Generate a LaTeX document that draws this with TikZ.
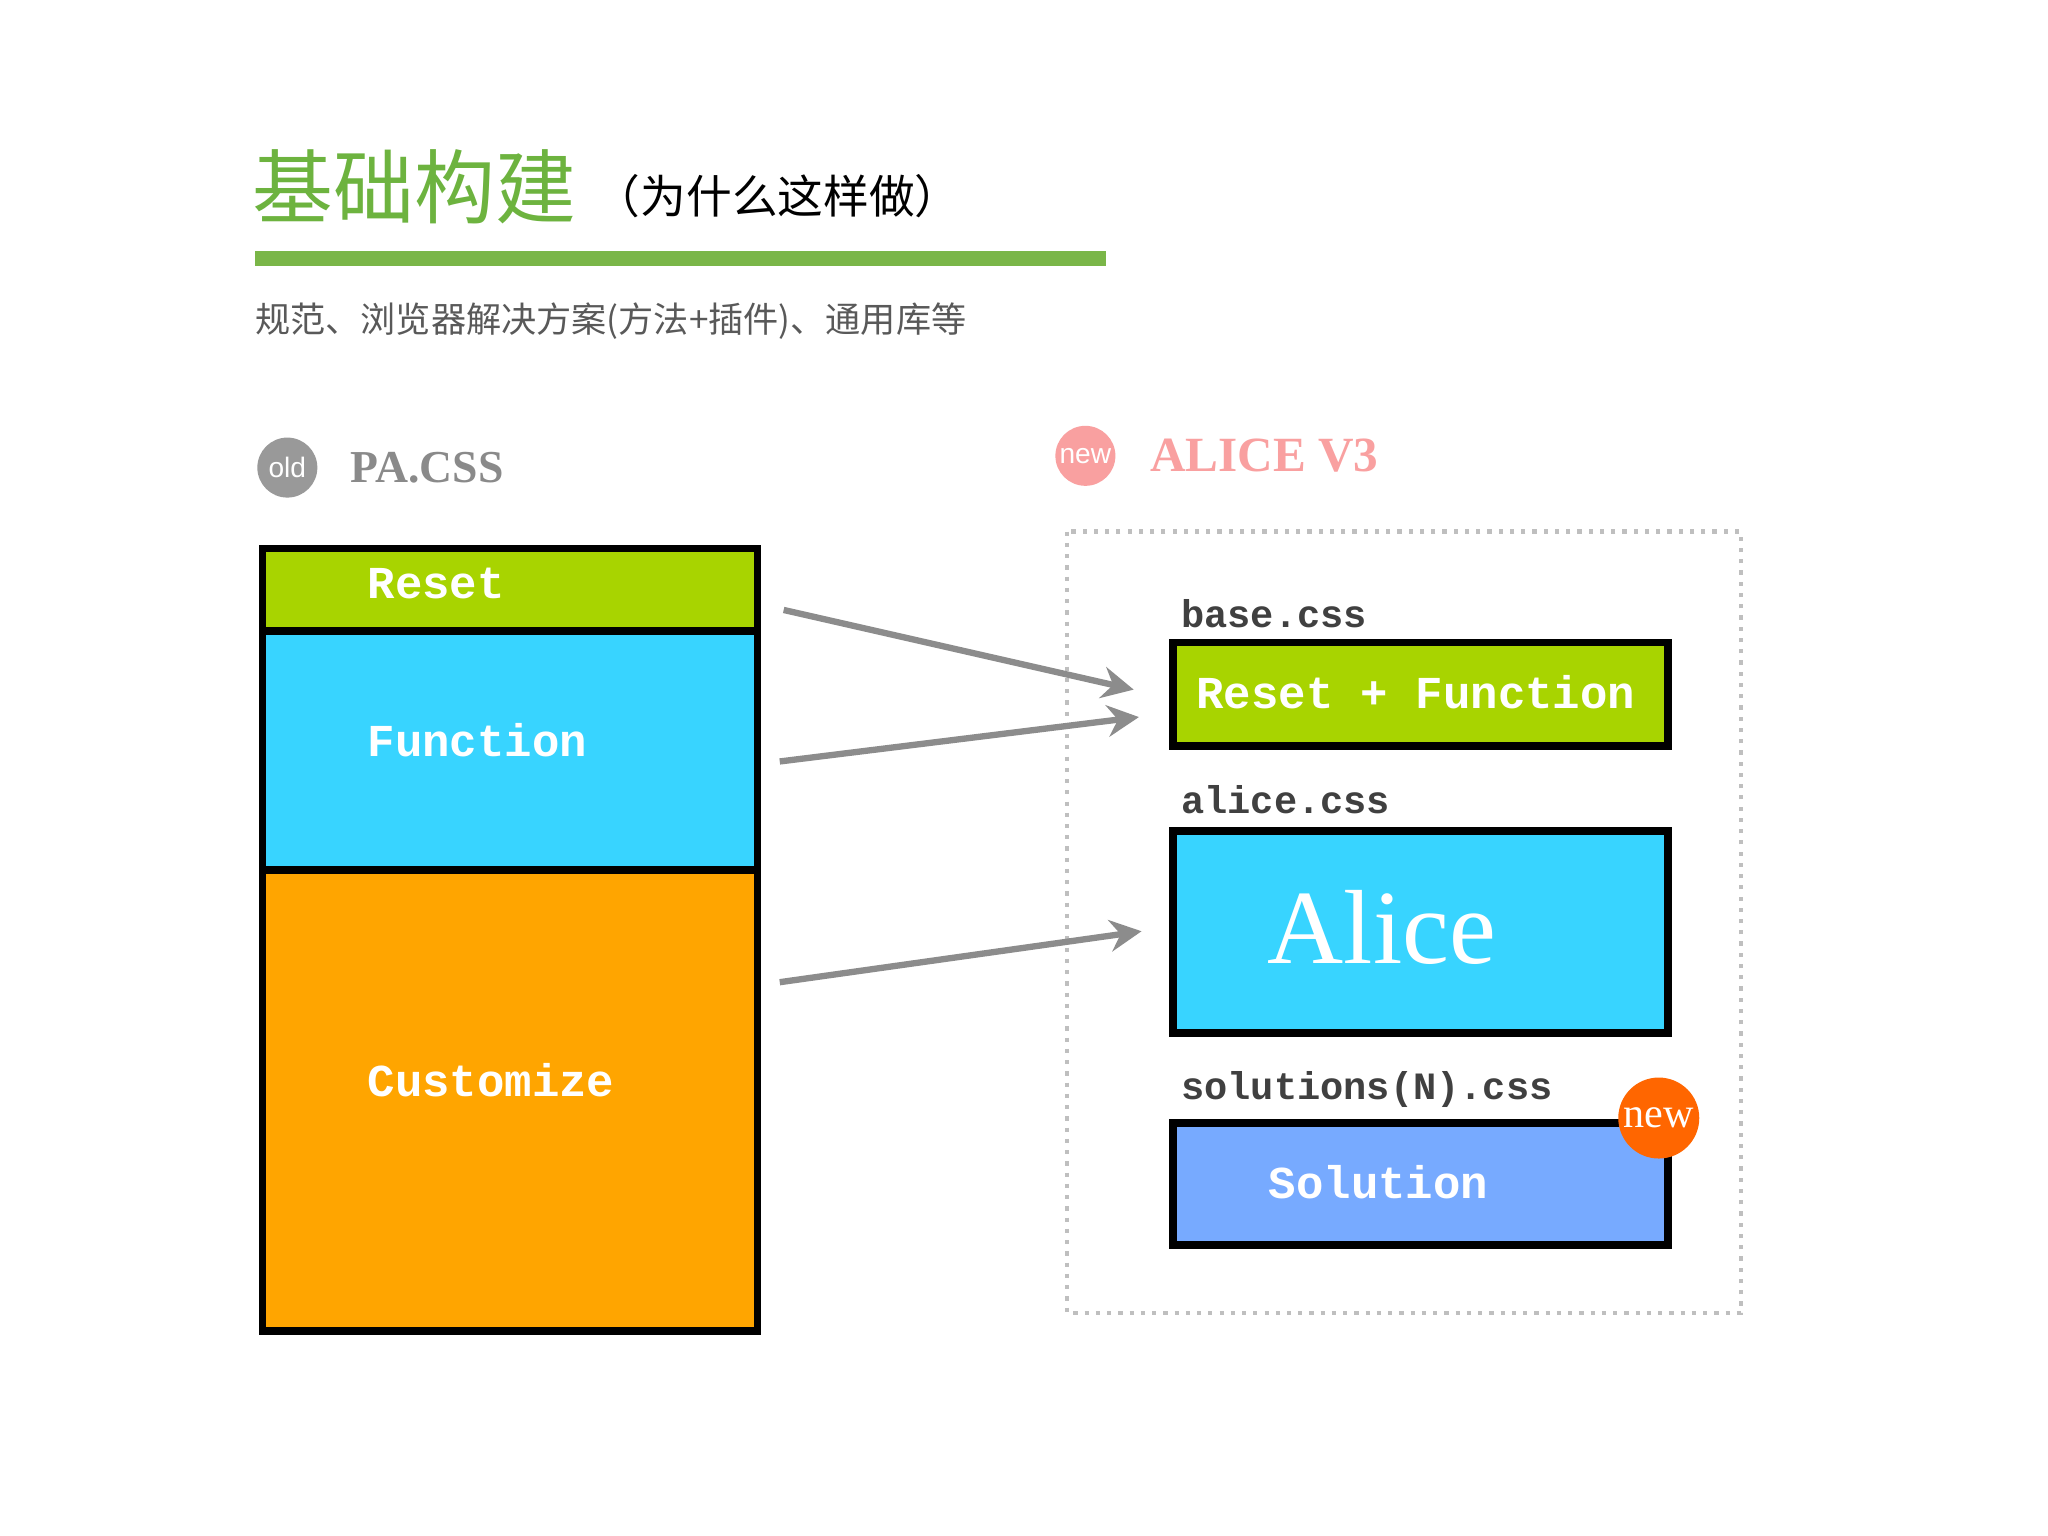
\documentclass[tikz,border=0pt]{standalone}
\usepackage{fontspec}
\usetikzlibrary{arrows.meta}
\setmainfont{Liberation Serif}
\newfontfamily\cjk{Noto Sans CJK SC}
\newfontfamily\monob{Liberation Mono}
\newfontfamily\sansf{Liberation Sans}
\definecolor{tgreen}{HTML}{6DB33F}
\definecolor{bgreen}{HTML}{7AB648}
\definecolor{rgreen}{HTML}{A8D400}
\definecolor{fcyan}{HTML}{38D4FF}
\definecolor{corange}{HTML}{FFA500}
\definecolor{sblue}{HTML}{77AAFF}
\definecolor{pinkc}{HTML}{F9A0A0}
\definecolor{neworange}{HTML}{FF6600}
\definecolor{graytxt}{HTML}{8A8A8A}
\begin{document}
\begin{tikzpicture}[x=0.01306cm,y=-0.01306cm,
  blk/.style={draw=black,line width=2.2pt,anchor=north west,inner sep=0},
  mlab/.style={font=\monob\bfseries\fontsize{13}{15}\selectfont,text=white,anchor=west},
  flab/.style={font=\monob\bfseries\fontsize{11}{13}\selectfont,text=black!75,anchor=west},
  arr/.style={draw=black!45,line width=1.8pt,-{Stealth[length=9pt,width=9pt,inset=3pt]}}]
\useasboundingbox (0,0) rectangle (1568,1176);
\fill[white] (0,0) rectangle (1568,1176);
% title
\node[anchor=west,inner sep=0,text=tgreen,font=\cjk\fontsize{23}{26}\selectfont] (t1) at (193,143) {基础构建};
\node[anchor=west,inner sep=0,font=\cjk\fontsize{13}{15}\selectfont] (t2) at (455,150) {（为什么这样做）};
\fill[bgreen] (195,192) rectangle (847,204);
\node[anchor=west,inner sep=0,text=black!65,font=\cjk\fontsize{10}{12}\selectfont] (sub) at (195,246) {规范、浏览器解决方案(方法+插件)、通用库等};
% old / new headers
\node[circle,fill=black!40,inner sep=0,text=white,font=\sansf\fontsize{8}{9}\selectfont,minimum size=0.6cm] (old) at (220,358) {old};
\node[anchor=west,inner sep=0,text=graytxt,font=\bfseries\fontsize{13}{15}\selectfont] (pa) at (268,358) {PA.CSS};
\node[circle,fill=pinkc,inner sep=0,text=white,font=\sansf\fontsize{8}{9}\selectfont,minimum size=0.6cm] (new1) at (831,349) {new};
\node[anchor=west,inner sep=0,text=pinkc,font=\bfseries\fontsize{14}{16}\selectfont] (al) at (880,349) {ALICE V3};
% left stack
\node[blk,fill=rgreen,minimum width=379*0.01306cm,minimum height=63*0.01306cm] (reset) at (198,417) {};
\node[blk,fill=fcyan,minimum width=379*0.01306cm,minimum height=183*0.01306cm] (func) at (198,480) {};
\node[blk,fill=corange,minimum width=379*0.01306cm,minimum height=353*0.01306cm] (cust) at (198,663) {};
\node[mlab] at (272,447) {Reset};
\node[mlab] at (272,567) {Function};
\node[mlab] at (272,827) {Customize};
% dotted container
\draw[black!25,dotted,line width=1.2pt] (817,407) rectangle (1333,1005);
\node[flab] at (895,470) {base.css};
\node[blk,fill=rgreen,minimum width=379*0.01306cm,minimum height=79*0.01306cm] (b1) at (895,489) {};
\node[mlab,anchor=center] at (1084,530) {Reset + Function};
\node[flab] at (895,612) {alice.css};
\node[blk,fill=fcyan,minimum width=379*0.01306cm,minimum height=155*0.01306cm] (b2) at (895,633) {};
\node[anchor=west,inner sep=0,text=white,font=\fontsize{30}{34}\selectfont] at (970,710) {Alice};
\node[flab] at (895,834) {solutions(N).css};
\node[blk,fill=sblue,minimum width=379*0.01306cm,minimum height=93*0.01306cm] (b3) at (895,857) {};
\node[mlab] at (962,905) {Solution};
\node[circle,fill=neworange,inner sep=0,minimum size=0.81cm,text=white,font=\fontsize{12}{13}\selectfont] (new2) at (1270,856) {new};
% arrows
\coordinate (a1s) at (600,467); \coordinate (a1e) at (868,528);
\coordinate (a2s) at (597,583); \coordinate (a2e) at (872,549);
\coordinate (a3s) at (597,752); \coordinate (a3e) at (874,713);
\draw[arr] (a1s) -- (a1e);
\draw[arr] (a2s) -- (a2e);
\draw[arr] (a3s) -- (a3e);
\end{tikzpicture}
\end{document}
